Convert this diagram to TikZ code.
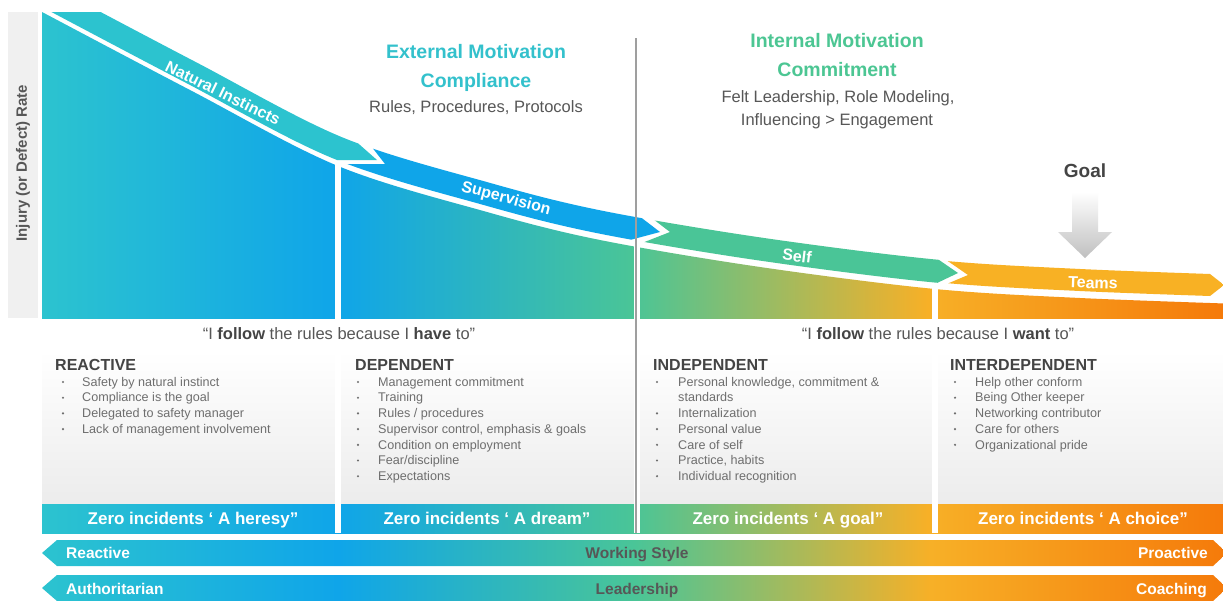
\documentclass[tikz,border=0pt]{standalone}
\usepackage{fontspec}
\setmainfont{Liberation Sans}
\definecolor{cteal}{HTML}{2CC3CF}
\definecolor{cblue}{HTML}{0FA5E9}
\definecolor{cgreen}{HTML}{4AC597}
\definecolor{cgold}{HTML}{F7B027}
\definecolor{cdeep}{HTML}{F57A0A}
\definecolor{cteams}{HTML}{F8B124}
\definecolor{cink}{HTML}{444444}
\definecolor{csub}{HTML}{575757}
\definecolor{ctext}{HTML}{6E6E6E}
\definecolor{cpanel}{HTML}{ECECEC}
\definecolor{cstrip}{HTML}{F0F0F0}
\definecolor{cext}{HTML}{33C1CC}
\definecolor{cint}{HTML}{4CC693}
% teal -> blue -> green -> gold -> deep orange, stretched over the whole width
\pgfdeclarehorizontalshading{rainbow}{100bp}{color(0bp)=(cteal); color(25bp)=(cteal); color(37.5bp)=(cblue); color(50bp)=(cgreen); color(62.5bp)=(cgold); color(75bp)=(cdeep); color(100bp)=(cdeep)}
% the falling rate curve, in pixel-like units
\newcommand{\ratecurve}{plot[smooth, tension=0.55] coordinates {(-20,-21) (42,12) (190,90) (338,166) (487,212) (600,240) (760,267) (935,289) (1080,298) (1240,304)}}
\newcommand{\fsz}[1]{\fontsize{#1}{#1}\selectfont}

\begin{document}
\begin{tikzpicture}[x=1pt, y=-1pt,
  title/.style={anchor=base, font=\fsz{19.5}\bfseries},
  sub/.style={anchor=base, font=\fsz{16.5}, text=csub},
  head/.style={anchor=base west, font=\fsz{16}\bfseries, text=cink, inner sep=0pt},
  item/.style={anchor=base west, font=\fsz{12.6}, text=ctext, inner sep=0pt},
  quote/.style={anchor=base, font=\fsz{16.5}, text=csub},
  bandtext/.style={font=\fsz{16}\bfseries, text=white},
  zero/.style={anchor=base, font=\fsz{17}\bfseries, text=white},
  barlabel/.style={font=\fsz{15.5}\bfseries, text=white, inner sep=0pt}]
 \useasboundingbox (0,0) rectangle (1223,600);
 \fill[white] (0,0) rectangle (1223,600);

 % axis strip
 \fill[cstrip] (8,12) rectangle (38,318);
 \node[rotate=90, font=\fsz{15}\bfseries, text=csub] (axis) at (23,163) {Injury (or Defect) Rate};

 % area under the curve
 \begin{scope}
  \clip (42,12) rectangle (1223,318);
  \clip \ratecurve -- (1240,330) -- (-20,330) -- cycle;
  \shade[shading=rainbow] (42,12) rectangle (1223,318);
 \end{scope}

 % text panels and zero-incident bars
 \foreach \a/\b in {42/335, 341/633.5, 639.5/932, 938/1223}
  \shade[top color=white, bottom color=cpanel] (\a,350) rectangle (\b,504);
 \shade[shading=rainbow] (42,504) rectangle (1223,533);
 \fill[white] (335,162) rectangle (341,533);
 \fill[white] (633.5,240) rectangle (639.5,533);
 \fill[white] (932,284) rectangle (938,533);

 % arrow bands riding on the curve
 \begin{scope}
  \clip (0,12) -- (209,12) -- (377,160) -- (322,160) -- (322,400) -- (0,400) -- cycle;
  \draw[cteal, line width=23pt, yshift=18pt] \ratecurve;
 \end{scope}
 \begin{scope}
  \clip (267,12) -- (385,164) -- (300,164) -- (300,400) -- (630,400) -- (630,240) -- (660,232) -- (373,12) -- cycle;
  \draw[cblue, line width=23pt, yshift=18pt] \ratecurve;
 \end{scope}
 \begin{scope}
  \clip (382,12) -- (670,232) -- (642,243) -- (642,400) -- (937,400) -- (937,283) -- (958,273) -- (578,12) -- cycle;
  \draw[cgreen, line width=23pt, yshift=18pt] \ratecurve;
 \end{scope}
 \begin{scope}
  \clip (587,12) -- (968,275) -- (942,286) -- (942,400) -- (1210,400) -- (1210,296) -- (1224,285) -- (1210,274) -- (1210,12) -- cycle;
  \draw[cteams, line width=22pt, yshift=18pt] \ratecurve;
 \end{scope}
 \node[bandtext, rotate=-26] (nat) at (223,93) {Natural Instincts};
 \node[bandtext, rotate=-15] (sup) at (506,199) {Supervision};
 \node[bandtext, rotate=-7] (self) at (797,256) {Self};
 \node[bandtext, rotate=-2] (team) at (1093,283) {Teams};

 % divider between the two halves
 \draw[gray!75, line width=2.2pt] (636,38) -- (636,533);

 % headings
 \node[title, text=cext] (ext) at (476,58) {External Motivation};
 \node[title, text=cext] (comp) at (476,87) {Compliance};
 \node[sub] (rules) at (476,112) {Rules, Procedures, Protocols};
 \node[title, text=cint] (int) at (837,47) {Internal Motivation};
 \node[title, text=cint] (comm) at (837,76) {Commitment};
 \node[sub] (felt) at (838,102) {Felt Leadership, Role Modeling,};
 \node[sub] (infl) at (837,125) {Influencing > Engagement};

 % goal marker
 \shade[top color=white, bottom color=gray!50] (1072,192) -- (1098,192) -- (1098,232) -- (1112,232) -- (1085,258) -- (1058,232) -- (1072,232) -- cycle;
 \node[anchor=base, font=\fsz{19}\bfseries, text=cink] (goal) at (1085,177) {Goal};

 % quotes
 \node[quote] (have) at (339,339) {“I {\color{cink}\bfseries follow} the rules because I {\color{cink}\bfseries have} to”};
 \node[quote] (want) at (938,339) {“I {\color{cink}\bfseries follow} the rules because I {\color{cink}\bfseries want} to”};

 % four stages
 \node[head] (reac) at (55,370.5) {REACTIVE};
 \foreach \t [count=\i] in {Safety by natural instinct, Compliance  is the goal, Delegated to safety manager, Lack of management involvement}{
  \fill[ctext] (63,366.3+15.7*\i) circle (1.2pt);
  \node[item] (re\i) at (82,370.5+15.7*\i) {\t};
 }
 \node[head] (dep) at (355,370.5) {DEPENDENT};
 \foreach \t [count=\i] in {Management commitment, Training, Rules / procedures, {Supervisor control, emphasis \& goals}, Condition on employment, Fear/discipline, Expectations}{
  \fill[ctext] (358,366.3+15.7*\i) circle (1.2pt);
  \node[item] (de\i) at (378,370.5+15.7*\i) {\t};
 }
 \node[head] (ind) at (653,370.5) {INDEPENDENT};
 \fill[ctext] (657,382) circle (1.2pt);
 \node[item] (in1) at (678,386.2) {Personal knowledge, commitment \&};
 \node[item] (in2) at (678,401.9) {standards};
 \foreach \t [count=\i from 3] in {Internalization, Personal value, Care of self, {Practice, habits}, Individual  recognition}{
  \fill[ctext] (657,366.3+15.7*\i) circle (1.2pt);
  \node[item] (in\i) at (678,370.5+15.7*\i) {\t};
 }
 \node[head] (inter) at (950,370.5) {INTERDEPENDENT};
 \foreach \t [count=\i] in {Help other conform, Being Other keeper, Networking contributor, Care for others, Organizational  pride}{
  \fill[ctext] (955,366.3+15.7*\i) circle (1.2pt);
  \node[item] (it\i) at (975,370.5+15.7*\i) {\t};
 }

 % zero incidents
 \node[zero] (z1) at (193,524.5) {Zero incidents ‘ A heresy”};
 \node[zero] (z2) at (487,524.5) {Zero incidents ‘ A dream”};
 \node[zero] (z3) at (788,524.5) {Zero  incidents ‘ A goal”};
 \node[zero] (z4) at (1083,524.5) {Zero  incidents ‘ A choice”};

 % working style and leadership scales
 \shade[shading=rainbow] (42,553) -- (57,540) -- (1213,540) -- (1227,553) -- (1213,566) -- (57,566) -- cycle;
 \shade[shading=rainbow] (42,588) -- (57,575) -- (1213,575) -- (1227,588) -- (1213,601) -- (57,601) -- cycle;
 \node[barlabel, anchor=base west] (reacl) at (66,558.5) {Reactive};
 \node[barlabel, anchor=base, text=csub] (work) at (637,558.5) {Working Style};
 \node[barlabel, anchor=base east] (pro) at (1208,558.5) {Proactive};
 \node[barlabel, anchor=base west] (auth) at (66,594.5) {Authoritarian};
 \node[barlabel, anchor=base, text=csub] (lead) at (637,594.5) {Leadership};
 \node[barlabel, anchor=base east] (coach) at (1207,594.5) {Coaching};
\end{tikzpicture}
\end{document}
